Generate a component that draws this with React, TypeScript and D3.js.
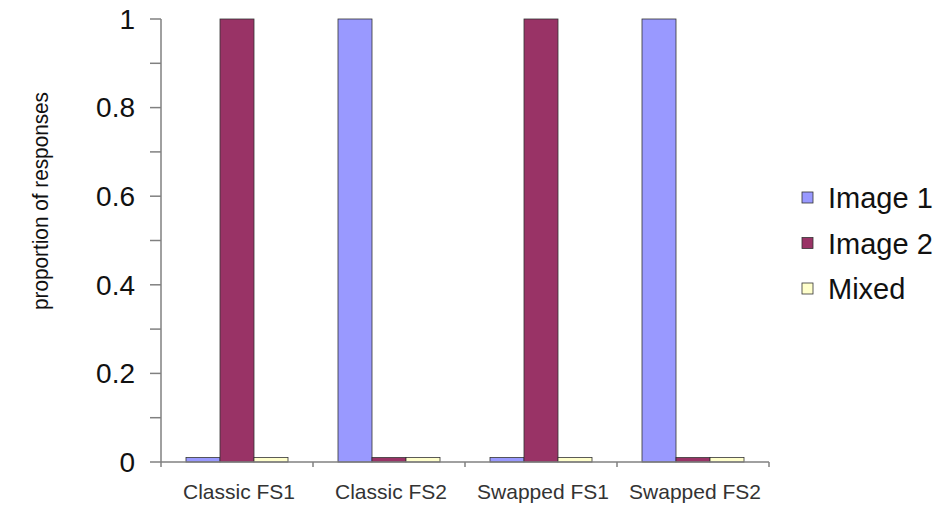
import React from "react";
import * as d3 from "d3";

const categories = ["Classic FS1", "Classic FS2", "Swapped FS1", "Swapped FS2"];
const seriesNames = ["Image 1", "Image 2", "Mixed"];
const image1 = [0.01, 1, 0.01, 1];
const image2 = [1, 0.01, 1, 0.01];
const mixed = [0.01, 0.01, 0.01, 0.01];
const seriesValues = [image1, image2, mixed];
const colors = ["#9999FF", "#993366", "#FFFFCC"];
const majorTicks = [0, 0.2, 0.4, 0.6, 0.8, 1];
const minorTicks = [0.1, 0.3, 0.5, 0.7, 0.9];

export default function App() {
  const W = 944, H = 506;
  const x0 = 161, x1 = 769, yTop = 19, yBot = 462;
  const x = d3.scaleBand<string>().domain(categories).range([x0, x1]).paddingInner(0).paddingOuter(0);
  const y = d3.scaleLinear().domain([0, 1]).range([yBot, yTop]);
  const groupW = 102;
  const xs = d3.scaleBand<string>().domain(seriesNames).range([0, groupW]).padding(0);
  const axisColor = "#808080";
  const font = "'Liberation Sans', Arial, sans-serif";
  return (
    <svg width={W} height={H} style={{ position: "absolute", left: 0, top: 0, background: "#fff" }}>
      {categories.map((c, ci) => {
        const gx = (x(c) as number) + (x.bandwidth() - groupW) / 2;
        return seriesNames.map((s, si) => {
          const v = seriesValues[si][ci];
          return (
            <rect key={c + s} x={gx + (xs(s) as number)} y={y(v)} width={xs.bandwidth()} height={yBot - y(v)}
              fill={colors[si]} stroke="#333" strokeWidth={0.8} />
          );
        });
      })}
      <line x1={x0} x2={x0} y1={yTop} y2={yBot} stroke={axisColor} strokeWidth={1.5} />
      {majorTicks.concat(minorTicks).map((t) => (
        <line key={"t" + t} x1={x0 - 11} x2={x0} y1={y(t)} y2={y(t)} stroke={axisColor} strokeWidth={1.5} />
      ))}
      {majorTicks.map((t) => (
        <text key={"l" + t} x={135} y={y(t)} dy="0.35em" textAnchor="end" fontSize={28} fontFamily={font} fill="#111">
          {t === 0 || t === 1 ? String(t) : t.toFixed(1)}
        </text>
      ))}
      <line x1={x0} x2={x1} y1={yBot} y2={yBot} stroke={axisColor} strokeWidth={1.5} />
      {categories.map((c) => (
        <line key={"xt" + c} x1={x(c) as number} x2={x(c) as number} y1={yBot} y2={yBot + 5} stroke={axisColor} strokeWidth={1.5} />
      ))}
      <line x1={x1} x2={x1} y1={yBot} y2={yBot + 5} stroke={axisColor} strokeWidth={1.5} />
      {categories.map((c) => (
        <text key={"xl" + c} x={(x(c) as number) + x.bandwidth() / 2 + 2} y={499} textAnchor="middle" fontSize={21} fontFamily={font} fill="#333">
          {c}
        </text>
      ))}
      <text transform={`translate(48,201) rotate(-90)`} textAnchor="middle" fontSize={22} fontFamily={font} fill="#111"
        textLength={218} lengthAdjust="spacingAndGlyphs">
        proportion of responses
      </text>
      {seriesNames.map((s, i) => (
        <g key={"lg" + s} transform={`translate(802, ${192 + i * 45.5})`}>
          <rect x={0} y={0} width={11} height={11} fill={colors[i]} stroke="#333" strokeWidth={0.8} />
          <text x={26} y={6} dy="0.35em" fontSize={29} fontFamily={font} fill="#111">{s}</text>
        </g>
      ))}
    </svg>
  );
}
